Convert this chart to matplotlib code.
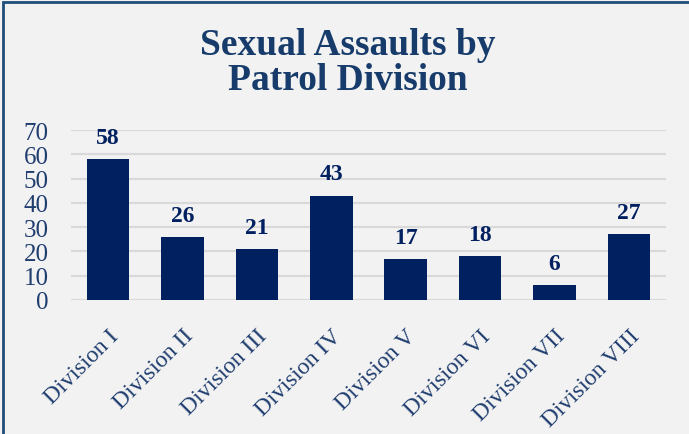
import matplotlib.pyplot as plt
from matplotlib.patches import Rectangle

divisions = ['Division I', 'Division II', 'Division III', 'Division IV',
             'Division V', 'Division VI', 'Division VII', 'Division VIII']
assaults = [58, 26, 21, 43, 17, 18, 6, 27]
yticks = [0, 10, 20, 30, 40, 50, 60, 70]

navy = '#002060'
textc = '#1f3d6e'
bg = '#f2f2f2'

plt.rcParams['font.family'] = ['Liberation Serif', 'DejaVu Serif']

fig = plt.figure(figsize=(6.89, 4.35), dpi=100, facecolor=bg)
ax = fig.add_axes([71/689, 1 - 301/435, 595/689, 170/435], facecolor=bg)

x = range(len(divisions))
bars = ax.bar(x, assaults, width=0.57, color=navy, zorder=3)
for xi, v in zip(x, assaults):
    ax.annotate(str(v), (xi, v), xytext=(0, 8), textcoords='offset points',
                ha='center', va='bottom', fontsize=17, fontweight='bold', color=navy)

ax.set_xlim(-0.5, len(divisions) - 0.5)
ax.set_ylim(0, 70)
ax.set_yticks(yticks)
ax.set_yticklabels([str(t) for t in yticks], fontsize=18, color=textc)
ax.set_xticks(list(x))
ax.set_xticklabels(divisions, rotation=45, ha='right', rotation_mode='anchor',
                   fontsize=17, color=textc)
ax.tick_params(length=0, axis='y', pad=16)
ax.tick_params(length=0, axis='x', pad=18)
ax.grid(axis='y', color='#d9d9d9', linewidth=1.5, zorder=0)
for s in ax.spines.values():
    s.set_visible(False)

fig.text(348/689, 1 - 63/435, 'Sexual Assaults by\nPatrol Division', ha='center', va='center',
         fontsize=27, fontweight='bold', color='#173c6b', linespacing=1.0)

# outer border (top and left visible)
fig.patches.append(Rectangle((3/689, -0.1), 1.2, 1 - 3/435 + 0.1, transform=fig.transFigure,
                             fill=False, edgecolor='#1f4e79', linewidth=2))

fig.savefig('out.png', dpi=100, facecolor=bg)
